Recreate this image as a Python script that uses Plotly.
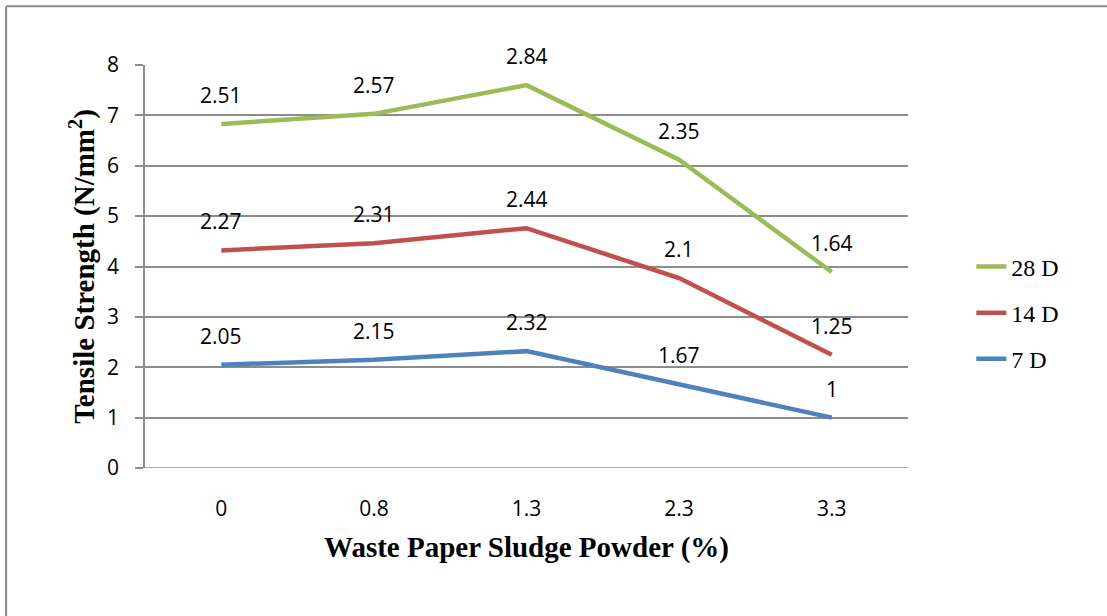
import numpy as np
import plotly.graph_objects as go

categories = ["0", "0.8", "1.3", "2.3", "3.3"]
d7 = [2.05, 2.15, 2.32, 1.67, 1.0]
d14 = [2.27, 2.31, 2.44, 2.10, 1.25]
d28 = [2.51, 2.57, 2.84, 2.35, 1.64]
label7 = ["2.05", "2.15", "2.32", "1.67", "1"]
label14 = ["2.27", "2.31", "2.44", "2.1", "1.25"]
label28 = ["2.51", "2.57", "2.84", "2.35", "1.64"]
names = ["7 D", "14 D", "28 D"]
colors = ["#4F81BD", "#C0504D", "#9BBB59"]

# stacked line chart: cumulative totals
series = [np.array(d7), np.array(d14), np.array(d28)]
labels = [label7, label14, label28]
cum = np.cumsum(np.vstack(series), axis=0)
idx = list(range(len(categories)))

sans = "Open Sans, Liberation Sans, sans-serif"
serif = "Liberation Serif, Times New Roman, serif"

fig = go.Figure()
annotations = []
for i in range(3):
    fig.add_trace(go.Scatter(
        x=idx, y=cum[i], mode="lines", name=names[i],
        legendgroup=names[i], legendrank=3 - i,
        line=dict(color=colors[i], width=4.5),
    ))
    for xi, yv, t in zip(idx, cum[i], labels[i]):
        annotations.append(dict(
            x=xi, y=yv, xref="x", yref="y", text=t, showarrow=False,
            yshift=29, font=dict(family=sans, size=21, color="#000"),
        ))

grid = "#8C8C8C"
fig.update_layout(
    width=1107, height=616,
    margin=dict(l=145, r=199, t=65, b=148),
    paper_bgcolor="white", plot_bgcolor="white",
    showlegend=True,
    legend=dict(
        x=1.083, y=0.385, xanchor="left", yanchor="middle",
        traceorder="grouped", tracegroupgap=12,
        font=dict(family=serif, size=24, color="#000"),
    ),
    annotations=annotations,
    xaxis=dict(
        range=[-0.5, 4.5], tickmode="array", tickvals=idx, ticktext=categories,
        showgrid=False, showline=False, zeroline=False, ticks="",
        tickfont=dict(family=sans, size=21, color="#000"),
        ticklabelstandoff=26,
        title=dict(text="Waste Paper Sludge Powder (%)", standoff=15,
                   font=dict(family=serif, size=29, color="#000", weight="bold")),
    ),
    yaxis=dict(
        range=[0, 8], dtick=1, showgrid=True, gridcolor=grid, gridwidth=1.5,
        showline=True, linecolor=grid, linewidth=1.5, zeroline=False,
        ticks="outside", ticklen=8, tickcolor=grid, tickwidth=1.5,
        tickfont=dict(family=sans, size=21, color="#000"),
        ticklabelstandoff=12,
        title=dict(text="Tensile Strength (N/mm<sup>2</sup>)", standoff=4,
                   font=dict(family=serif, size=29, color="#000", weight="bold")),
    ),
    shapes=[
        dict(type="line", xref="paper", yref="y", x0=-0.0105, x1=1, y0=0, y1=0,
             line=dict(color=grid, width=1.5), layer="below"),
        dict(type="line", xref="paper", yref="paper", x0=-0.182, x1=1.3, y0=1.146, y1=1.146,
             line=dict(color="#8C8C8C", width=2)),
        dict(type="line", xref="paper", yref="paper", x0=-0.182, x1=-0.182, y0=1.146, y1=-0.4,
             line=dict(color="#8C8C8C", width=2)),
    ],
)

fig.write_html("out.html", config={"displayModeBar": False},
               post_script="document.body.style.margin='0';")
